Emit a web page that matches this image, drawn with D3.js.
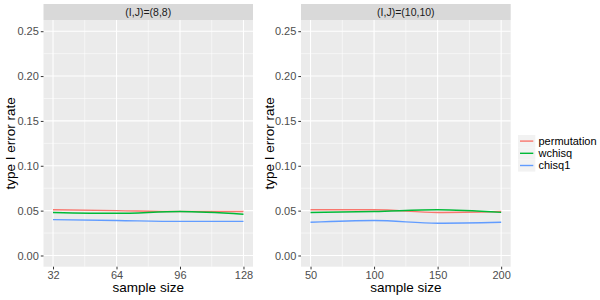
<!DOCTYPE html>
<meta charset="utf-8">
<style>
html, body { margin: 0; overflow: hidden; background: #fff; }
text { font-family: "Liberation Sans", Arial, sans-serif; }
</style>
<body>
<script src="https://d3js.org/d3.v7.min.js"></script>
<script>

var width = 600, height = 300;

// data
var methods = ["permutation", "wchisq", "chisq1"];
var colors = ["#F8766D", "#00BA38", "#619CFF"];

var sizes88 = [32, 64, 96, 128];
var perm88 = [0.051, 0.050, 0.049, 0.049];
var wchi88 = [0.048, 0.047, 0.049, 0.046];
var chi188 = [0.040, 0.039, 0.038, 0.038];

var sizes1010 = [50, 100, 150, 200];
var perm1010 = [0.051, 0.051, 0.048, 0.049];
var wchi1010 = [0.048, 0.049, 0.051, 0.048];
var chi11010 = [0.037, 0.039, 0.036, 0.037];

var yTicks = [0, 0.05, 0.10, 0.15, 0.20, 0.25];

var panels = [
  { title: "(I,J)=(8,8)", sizes: sizes88, series: [perm88, wchi88, chi188],
    left: 43.5, right: 253, yx: 10 },
  { title: "(I,J)=(10,10)", sizes: sizes1010, series: [perm1010, wchi1010, chi11010],
    left: 301, right: 510.7, yx: 269 }
];

var plotTop = 20, plotBottom = 266.7;

var svg = d3.select("body").append("svg")
  .attr("width", width)
  .attr("height", height);

var y = d3.scaleLinear().domain([-0.0125, 0.2625]).range([plotBottom, plotTop]);

panels.forEach(function(p) {
  var lo = d3.min(p.sizes), hi = d3.max(p.sizes), pad = (hi - lo) * 0.05;
  var x = d3.scaleLinear().domain([lo - pad, hi + pad]).range([p.left, p.right]);
  var step = p.sizes[1] - p.sizes[0];
  var minorX = p.sizes.slice(0, -1).map(function(d) { return d + step / 2; });
  var minorY = yTicks.slice(0, -1).map(function(d) { return d + 0.025; });

  var g = svg.append("g");

  // strip
  g.append("rect")
    .attr("x", p.left).attr("y", 4)
    .attr("width", p.right - p.left).attr("height", plotTop - 4)
    .attr("fill", "#d9d9d9");
  g.append("text")
    .attr("x", (p.left + p.right) / 2).attr("y", 15.5)
    .attr("text-anchor", "middle")
    .attr("font-size", 10.5)
    .attr("fill", "#1a1a1a")
    .text(p.title);

  // panel
  g.append("rect")
    .attr("x", p.left).attr("y", plotTop)
    .attr("width", p.right - p.left).attr("height", plotBottom - plotTop)
    .attr("fill", "#ebebeb");

  g.selectAll(".minx").data(minorX).enter().append("line")
    .attr("x1", x).attr("x2", x).attr("y1", plotTop).attr("y2", plotBottom)
    .attr("stroke", "#fff").attr("stroke-width", 0.55);
  g.selectAll(".miny").data(minorY).enter().append("line")
    .attr("y1", y).attr("y2", y).attr("x1", p.left).attr("x2", p.right)
    .attr("stroke", "#fff").attr("stroke-width", 0.55);
  g.selectAll(".majx").data(p.sizes).enter().append("line")
    .attr("x1", x).attr("x2", x).attr("y1", plotTop).attr("y2", plotBottom)
    .attr("stroke", "#fff").attr("stroke-width", 1.1);
  g.selectAll(".majy").data(yTicks).enter().append("line")
    .attr("y1", y).attr("y2", y).attr("x1", p.left).attr("x2", p.right)
    .attr("stroke", "#fff").attr("stroke-width", 1.1);

  // axes
  var xAxis = d3.axisBottom(x).tickValues(p.sizes).tickSize(2.7).tickPadding(1.5);
  var yAxis = d3.axisLeft(y).tickValues(yTicks).tickFormat(d3.format(".2f")).tickSize(2.7).tickPadding(2);

  var gx = g.append("g").attr("transform", "translate(0," + plotBottom + ")").call(xAxis);
  var gy = g.append("g").attr("transform", "translate(" + p.left + ",0)").call(yAxis);
  [gx, gy].forEach(function(a) {
    a.select(".domain").remove();
    a.selectAll(".tick line").attr("stroke", "#333").attr("stroke-width", 1);
    a.selectAll(".tick text").attr("fill", "#4d4d4d").attr("font-size", 11)
      .attr("font-family", "Liberation Sans, Arial, sans-serif");
  });

  // lines
  var line = d3.line()
    .x(function(d, i) { return x(p.sizes[i]); })
    .y(function(d) { return y(d); })
    .curve(d3.curveMonotoneX);

  g.selectAll(".series").data(p.series).enter().append("path")
    .attr("d", line)
    .attr("fill", "none")
    .attr("stroke", function(d, i) { return colors[i]; })
    .attr("stroke-width", 1.4);

  // axis titles
  g.append("text")
    .attr("x", (p.left + p.right) / 2).attr("y", 291.5)
    .attr("text-anchor", "middle")
    .attr("font-size", 13.5)
    .attr("fill", "#000")
    .text("sample size");
  g.append("text")
    .attr("transform", "translate(" + (p.yx + 5) + "," + ((plotTop + plotBottom) / 2) + ") rotate(-90)")
    .attr("text-anchor", "middle")
    .attr("font-size", 13.5)
    .attr("fill", "#000")
    .text("type I error rate");
});

// legend
var legend = svg.append("g").attr("transform", "translate(518,135)");
var item = legend.selectAll("g").data(methods).enter().append("g")
  .attr("transform", function(d, i) { return "translate(0," + (i * 12.2) + ")"; });
item.append("rect")
  .attr("width", 17.3).attr("height", 12.2)
  .attr("fill", "#f2f2f2");
item.append("line")
  .attr("x1", 2).attr("x2", 15.3).attr("y1", 6.1).attr("y2", 6.1)
  .attr("stroke", function(d, i) { return colors[i]; })
  .attr("stroke-width", 1.4);
item.append("text")
  .attr("x", 20.5).attr("y", 10)
  .attr("font-size", 11)
  .attr("fill", "#000")
  .text(function(d) { return d; });

</script>
